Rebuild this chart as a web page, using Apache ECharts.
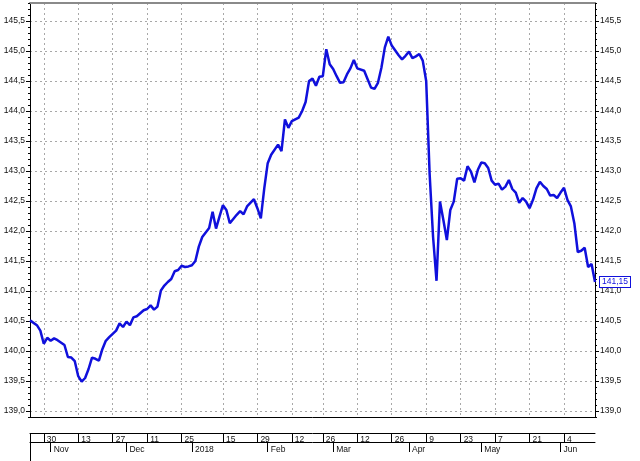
<!DOCTYPE html>
<html>
<head>
<meta charset="utf-8">
<script src="https://cdn.jsdelivr.net/npm/echarts@6/dist/echarts.min.js"></script>
<style>
  html, body { margin: 0; padding: 0; background: #fff; }
  #chart { width: 640px; height: 461px; }
</style>
</head>
<body>
<div id="chart"></div>
<script>
// trading calendar
const startDate = '2017-10-24'
const endDate = '2018-06-15'
const holidays = ['2017-12-25', '2017-12-26', '2018-01-01', '2018-02-19']

// tick labels of the two date rows (week starts, month starts)
const weekTicks = [
  '2017-10-30', '2017-11-13', '2017-11-27', '2017-12-11', '2017-12-25', '2018-01-15', '2018-01-29', '2018-02-12',
  '2018-02-26', '2018-03-12', '2018-03-26', '2018-04-09', '2018-04-23', '2018-05-07', '2018-05-21', '2018-06-04'
]
const monthLabels = ['Nov', 'Dec', '2018', 'Feb', 'Mar', 'Apr', 'May', 'Jun']

// price readings: trading-day index and value
const pointDay = [
  0, 2, 3, 4, 5, 6, 7, 8, 10, 11, 12, 13, 14, 15, 16, 17, 18, 19, 20, 21, 22, 23, 25, 26, 27, 28, 29, 30, 31, 33,
  34, 35, 36, 37, 38, 39, 40, 41, 42, 43, 44, 45, 46, 47, 48, 49, 50, 52, 53, 54, 55, 56, 57, 58, 60, 61, 62, 63, 65, 66,
  67, 68, 69, 70, 72, 73, 74, 75, 76, 78, 79, 80, 81, 82, 83, 84, 85, 86, 87, 88, 89, 90, 91, 92, 93, 94, 95, 97, 98, 99,
  100, 101, 102, 103, 104, 105, 107, 108, 109, 110, 111, 112, 113, 114, 115, 116, 117, 118, 119, 120, 121, 122, 123, 124, 125, 126, 127, 128, 129, 130,
  131, 132, 133, 134, 135, 136, 137, 138, 139, 140, 141, 142, 143, 144, 145, 146, 147, 148, 149, 150, 151, 152, 153, 154, 155, 156, 157, 158, 159, 160,
  161, 162, 163, 164
]
const pointValue = [
  140.51, 140.43, 140.34, 140.12, 140.22, 140.17, 140.21, 140.18, 140.10, 139.90, 139.89, 139.83, 139.58, 139.49, 139.55, 139.70, 139.89, 139.87, 139.84, 140.03, 140.17, 140.23, 140.34, 140.46, 140.40, 140.49, 140.43, 140.56, 140.58, 140.68,
  140.70, 140.76, 140.69, 140.74, 141.01, 141.09, 141.15, 141.20, 141.33, 141.35, 141.42, 141.40, 141.41, 141.43, 141.50, 141.74, 141.90, 142.05, 142.32, 142.04, 142.24, 142.43, 142.35, 142.13, 142.27, 142.33, 142.28, 142.41, 142.53, 142.38,
  142.21, 142.71, 143.13, 143.27, 143.44, 143.33, 143.86, 143.72, 143.83, 143.89, 144.00, 144.15, 144.50, 144.54, 144.42, 144.57, 144.58, 145.03, 144.78, 144.70, 144.58, 144.47, 144.48, 144.61, 144.71, 144.85, 144.71, 144.67, 144.53, 144.39,
  144.37, 144.47, 144.72, 145.06, 145.24, 145.09, 144.93, 144.86, 144.92, 144.99, 144.88, 144.91, 144.95, 144.84, 144.50, 142.95, 141.90, 141.17, 142.49, 142.18, 141.85, 142.35, 142.49, 142.87, 142.88, 142.84, 143.08, 142.99, 142.81, 143.02,
  143.14, 143.13, 143.05, 142.84, 142.77, 142.79, 142.69, 142.74, 142.85, 142.70, 142.64, 142.47, 142.55, 142.49, 142.38, 142.52, 142.71, 142.82, 142.75, 142.70, 142.59, 142.60, 142.55, 142.64, 142.72, 142.52, 142.41, 142.13, 141.65, 141.67,
  141.72, 141.40, 141.45, 141.15
]
const lastLabel = '141,15'

const fmt = d => d.toISOString().slice(0, 10)

// build the trading days
const days = []
for (let d = new Date(startDate + 'T00:00:00Z'); fmt(d) <= endDate; d.setUTCDate(d.getUTCDate() + 1)) {
  const dow = d.getUTCDay()
  if (dow === 0 || dow === 6) continue
  if (holidays.includes(fmt(d))) continue
  days.push(fmt(d))
}

// week tick on the first trading day on or after each week start
const weekLabelAt = {}
weekTicks.forEach(w => {
  const i = days.findIndex(s => s >= w)
  if (i >= 0) weekLabelAt[i] = String(Number(w.slice(8, 10)))
})

// month tick on the first trading day of each month
const monthLabelAt = {}
let mk = 0
days.forEach((s, i) => {
  if (i > 0 && s.slice(5, 7) !== days[i - 1].slice(5, 7) && mk < monthLabels.length) {
    monthLabelAt[i] = monthLabels[mk++]
  }
})

const isWeek = i => weekLabelAt[i] !== undefined
const isMonth = i => monthLabelAt[i] !== undefined

const yMin = 138.9
const yMax = 145.8
const font = 'Liberation Sans'
const lineBlue = '#1010dc'
const gridGray = '#a8a8a8'
const comma = v => v.toFixed(1).replace('.', ',')

const chart = echarts.init(document.getElementById('chart'), null, { renderer: 'canvas' })

const majorY = (pos) => ({
  type: 'value',
  position: pos,
  min: yMin,
  max: yMax,
  minInterval: 0.5,
  maxInterval: 0.5,
  axisLine: { show: true, lineStyle: { color: '#000', width: 1 } },
  axisTick: { show: true, length: 4, lineStyle: { color: '#000' } },
  axisLabel: {
    show: true,
    formatter: comma,
    fontSize: 8.5,
    fontFamily: font,
    color: '#111',
    margin: 5,
    showMinLabel: false,
    showMaxLabel: false
  },
  splitLine: {
    show: pos === 'left',
    lineStyle: { color: gridGray, type: [2, 3], width: 1 }
  }
})

const minorY = (pos) => ({
  type: 'value',
  position: pos,
  min: yMin,
  max: yMax,
  interval: 0.1,
  axisLine: { show: false },
  axisTick: { show: true, length: 2, lineStyle: { color: '#000' } },
  axisLabel: { show: false },
  splitLine: { show: false }
})

const bandAxis = (extra) => Object.assign({
  type: 'category',
  data: days,
  boundaryGap: false,
  position: 'bottom',
  axisLine: { show: false },
  axisTick: { show: false },
  axisLabel: { show: false },
  splitLine: { show: false }
}, extra)

const option = {
  animation: false,
  backgroundColor: '#fff',
  textStyle: { fontFamily: font },
  grid: { left: 30, right: 45, top: 3, bottom: 44 },
  xAxis: [
    bandAxis({
      axisLine: { show: true, lineStyle: { color: '#000', width: 1 } },
      splitLine: {
        show: true,
        interval: (i) => isWeek(i),
        lineStyle: { color: gridGray, type: [2, 3], width: 1 }
      }
    }),
    bandAxis({
      offset: 16,
      axisLine: { show: true, lineStyle: { color: '#000', width: 1 } },
      axisTick: {
        show: true,
        inside: false,
        length: 9,
        interval: (i) => i === 0 || isWeek(i),
        lineStyle: { color: '#000' }
      },
      axisLabel: {
        show: true,
        interval: (i) => isWeek(i),
        formatter: (v, i) => weekLabelAt[i] || '',
        align: 'left',
        verticalAlign: 'top',
        padding: [0, 0, 0, 3],
        margin: 2,
        fontSize: 8.5,
        fontFamily: font,
        color: '#111'
      }
    }),
    bandAxis({
      offset: 25,
      axisLine: { show: true, lineStyle: { color: '#000', width: 1 } },
      axisTick: {
        show: true,
        inside: false,
        length: 10,
        interval: (i) => isMonth(i),
        lineStyle: { color: '#000' }
      },
      axisLabel: {
        show: true,
        interval: (i) => isMonth(i),
        formatter: (v, i) => monthLabelAt[i] || '',
        align: 'left',
        verticalAlign: 'top',
        padding: [0, 0, 0, 3],
        margin: 3,
        fontSize: 8.5,
        fontFamily: font,
        color: '#111'
      }
    }),
    bandAxis({
      offset: 25,
      axisTick: {
        show: true,
        inside: false,
        length: 20,
        interval: (i) => i === 0,
        lineStyle: { color: '#000' }
      }
    }),
    bandAxis({
      position: 'top',
      axisLine: { show: true, lineStyle: { color: '#8a8a8a', width: 2 } }
    })
  ],
  yAxis: [majorY('left'), minorY('left'), majorY('right'), minorY('right')],
  series: [
    {
      name: 'price',
      type: 'line',
      xAxisIndex: 0,
      yAxisIndex: 0,
      data: pointDay.map((d, i) => [d, pointValue[i]]),
      showSymbol: false,
      smooth: false,
      lineStyle: { color: lineBlue, width: 2.5 },
      itemStyle: { color: lineBlue },
      endLabel: {
        show: true,
        formatter: lastLabel,
        distance: 5,
        fontSize: 8.5,
        fontFamily: font,
        color: lineBlue,
        backgroundColor: '#fff',
        borderColor: lineBlue,
        borderWidth: 1,
        padding: [1, 2, 0, 2]
      }
    }
  ]
}

chart.setOption(option)
window.addEventListener('resize', () => chart.resize())
</script>
</body>
</html>
